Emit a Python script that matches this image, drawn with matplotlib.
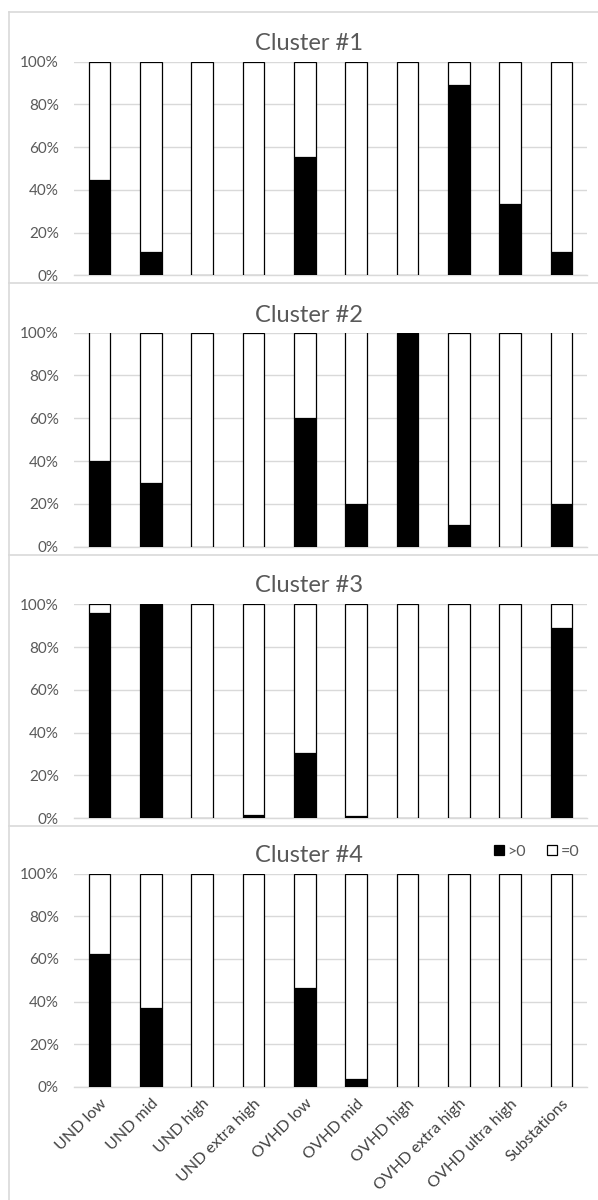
import matplotlib
matplotlib.use("Agg")
import matplotlib.pyplot as plt
from matplotlib.lines import Line2D
from matplotlib.ticker import FuncFormatter

plt.rcParams['font.family'] = ['Lato', 'DejaVu Sans']

categories = ["UND low", "UND mid", "UND high", "UND extra high", "OVHD low",
              "OVHD mid", "OVHD high", "OVHD extra high", "OVHD ultra high", "Substations"]
cluster_titles = ["Cluster #1", "Cluster #2", "Cluster #3", "Cluster #4"]
series_names = [">0", "=0"]

# share of items with value > 0 (percent)
pos_c1 = [44.4, 11.1, 0, 0, 55.6, 0, 0, 88.9, 33.3, 11.1]
pos_c2 = [40, 30, 0, 0, 60, 20, 100, 10, 0, 20]
pos_c3 = [95.8, 100, 0, 1.6, 30.5, 0.8, 0, 0, 0, 88.7]
pos_c4 = [62.2, 36.8, 0, 0, 46.3, 3.6, 0, 0, 0, 0]
clusters = [pos_c1, pos_c2, pos_c3, pos_c4]
y_ticks = [0, 20, 40, 60, 80, 100]

W, H = 598, 1200
fig = plt.figure(figsize=(W / 100, H / 100), dpi=100)
fig.patch.set_facecolor("white")

# axes placement (pixels): top (100%) and bottom (0%) of each plot area
ax_left, ax_right = 74, 587
ax_tops = [61.7, 332.5, 604.3, 873.5]
ax_bots = [275.3, 546.8, 818.0, 1087.0]
title_y = [44, 315, 586, 855]

GRID = "#d9d9d9"
TXT = "#595959"

# panel borders
def hline(y, x0=9, x1=598):
    fig.add_artist(Line2D([x0 / W, x1 / W], [1 - y / H, 1 - y / H],
                          transform=fig.transFigure, color=GRID, lw=1.2))
for yb in [12, 283.3, 555, 825.7]:
    hline(yb)
fig.add_artist(Line2D([9 / W, 9 / W], [1 - 12 / H, 0], transform=fig.transFigure,
                      color=GRID, lw=1.2))

x = list(range(len(categories)))
for i, vals in enumerate(clusters):
    top, bot = ax_tops[i], ax_bots[i]
    ax = fig.add_axes([ax_left / W, 1 - bot / H, (ax_right - ax_left) / W, (bot - top) / H])
    zero_vals = [100 - v for v in vals]
    b1 = ax.bar(x, vals, width=0.42, color="black", edgecolor="black", linewidth=0.9,
                label=series_names[0], zorder=3)
    b2 = ax.bar(x, zero_vals, bottom=vals, width=0.42, color="white", edgecolor="black",
                linewidth=0.9, label=series_names[1], zorder=3)
    ax.set_xlim(-0.5, len(categories) - 0.5)
    ax.set_ylim(0, 100)
    ax.set_yticks(y_ticks)
    ax.yaxis.set_major_formatter(FuncFormatter(lambda v, p: f"{int(v)}%"))
    ax.grid(axis="y", color=GRID, lw=1.0, zorder=0)
    ax.set_axisbelow(True)
    for s in ["top", "right", "left"]:
        ax.spines[s].set_visible(False)
    ax.spines["bottom"].set_color(GRID)
    ax.spines["bottom"].set_linewidth(1.0)
    ax.tick_params(axis="y", length=0, labelsize=11, labelcolor=TXT, pad=11)
    ax.tick_params(axis="x", length=0)
    ax.patch.set_alpha(0)
    if i == 3:
        ax.set_xticks(x)
        ax.set_xticklabels(categories, rotation=45, ha="right", rotation_mode="anchor",
                           fontsize=11.5, color="#404040")
        ax.tick_params(axis="x", pad=7)
        fig.legend(handles=[b1, b2], labels=series_names, ncol=2, frameon=False,
                   loc="center right", bbox_to_anchor=(579 / W, 1 - 851.7 / H),
                   fontsize=11.5, handlelength=0.65, handleheight=0.65,
                   handletextpad=0.2, columnspacing=1.3, labelcolor=TXT,
                   borderpad=0, borderaxespad=0)
    else:
        ax.set_xticks(x)
        ax.set_xticklabels([])
    fig.text(309 / W, 1 - title_y[i] / H, cluster_titles[i], ha="center", va="center",
             fontsize=17, color=TXT)

fig.savefig("out.png", dpi=100, facecolor="white")
